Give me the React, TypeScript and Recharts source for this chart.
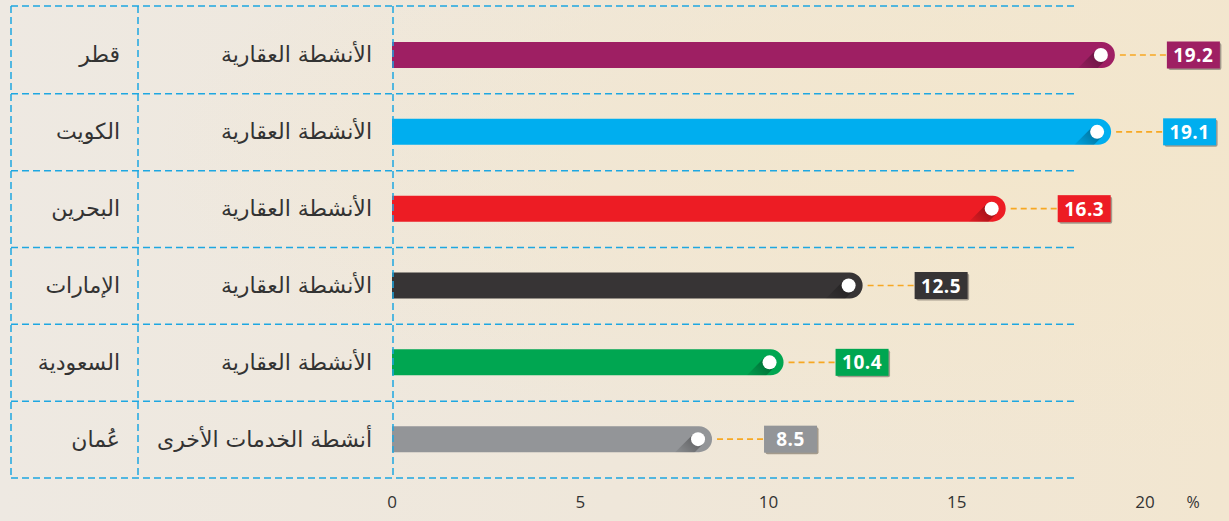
import React from 'react';
import { BarChart, Bar, XAxis, YAxis } from 'recharts';

const countries = ['قطر', 'الكويت', 'البحرين', 'الإمارات', 'السعودية', 'عُمان'];
const activities = [
  'الأنشطة العقارية',
  'الأنشطة العقارية',
  'الأنشطة العقارية',
  'الأنشطة العقارية',
  'الأنشطة العقارية',
  'أنشطة الخدمات الأخرى',
];
const values = [19.2, 19.1, 16.3, 12.5, 10.4, 8.5];
const colors = ['#9E1F63', '#00AEEF', '#ED1C24', '#373435', '#00A651', '#939598'];
const xTicks = [0, 5, 10, 15, 20];

const data = countries.map((c, i) => ({
  country: c,
  activity: activities[i],
  value: values[i],
  color: colors[i],
}));

const W = 1229;
const H = 521;
const TOP = 17;
const XAXIS_H = 43;
const LEFT_W = 392;
const RIGHT = 84;
const ROW_H = (H - TOP - XAXIS_H) / countries.length;
const GRID = '#1EA7E1';
const ARABIC_FONT = '"DejaVu Sans", sans-serif';
const NUM_FONT = '"Open Sans", "Noto Sans", sans-serif';

const BarShape = (props: any) => {
  const { x, y, width, height, payload, index } = props;
  const color = payload.color;
  const r = height / 2;
  const end = x + width;
  const cy = y + r;
  const cx = end - 14;
  const dotR = 7;
  const boxX = end + 52;
  const boxW = 53;
  const boxH = 27;
  const clipId = `clip-${index}`;
  const gradId = `shd-${index}`;
  const d = 0.7 * dotR;
  const L = 26;
  const barPath = `M${x},${y} H${end - r} A${r},${r} 0 0 1 ${end - r},${y + height} H${x} Z`;
  return (
    <g>
      <defs>
        <clipPath id={clipId}>
          <path d={barPath} />
        </clipPath>
        <linearGradient
          id={gradId}
          gradientUnits="userSpaceOnUse"
          x1={cx}
          y1={cy}
          x2={cx - L * 0.8}
          y2={cy + L * 0.8}
        >
          <stop offset="0%" stopColor="#000" stopOpacity={0.35} />
          <stop offset="100%" stopColor="#000" stopOpacity={0} />
        </linearGradient>
      </defs>
      <path d={barPath} fill={color} />
      <polygon
        clipPath={`url(#${clipId})`}
        points={`${cx - d},${cy - d} ${cx + d},${cy + d} ${cx + d - L},${cy + d + L} ${cx - d - L},${cy - d + L}`}
        fill={`url(#${gradId})`}
      />
      <circle cx={cx} cy={cy} r={dotR} fill="#fff" />
      <line
        x1={end + 5}
        y1={cy}
        x2={boxX}
        y2={cy}
        stroke="#F7A823"
        strokeWidth={1.6}
        strokeDasharray="6 4"
      />
      <rect x={boxX + 1.5} y={cy - boxH / 2 + 1.5} width={boxW} height={boxH} rx={2} fill="#A39A8C" />
      <rect x={boxX} y={cy - boxH / 2} width={boxW} height={boxH} fill={color} />
      <text
        x={boxX + boxW / 2}
        y={cy + 7}
        textAnchor="middle"
        fill="#fff"
        fontFamily={NUM_FONT}
        fontWeight={700}
        fontSize={19}
        letterSpacing={0.5}
      >
        {payload.value}
      </text>
    </g>
  );
};

const YTick = (props: any) => {
  const { y, payload, index } = props;
  const row = data[index] || data.find((d) => d.country === payload.value);
  const lineRight = 1076;
  const dash = '7 4';
  const sw = 1.5;
  const bottom = y + ROW_H / 2;
  const els: React.ReactNode[] = [];
  if (index === 0) {
    const topY = y - ROW_H / 2 - 11;
    const bottomY = y - ROW_H / 2 + ROW_H * countries.length;
    els.push(
      <line key="top" x1={11} y1={topY} x2={lineRight} y2={topY} stroke={GRID} strokeWidth={sw} strokeDasharray={dash} />,
      <line key="v1" x1={11} y1={topY} x2={11} y2={bottomY} stroke={GRID} strokeWidth={sw} strokeDasharray={dash} />,
      <line key="v2" x1={138} y1={topY} x2={138} y2={bottomY} stroke={GRID} strokeWidth={sw} strokeDasharray={dash} />,
      <line key="v3" x1={393} y1={topY} x2={393} y2={bottomY} stroke={GRID} strokeWidth={sw} strokeDasharray={dash} />
    );
  }
  return (
    <g>
      {els}
      <line x1={11} y1={bottom} x2={lineRight} y2={bottom} stroke={GRID} strokeWidth={sw} strokeDasharray={dash} />
      <text x={120} y={y + 7} textAnchor="end" fill="#333" fontFamily={ARABIC_FONT} fontSize={22}>
        {row ? row.country : payload.value}
      </text>
      <text x={372} y={y + 7} textAnchor="end" fill="#333" fontFamily={ARABIC_FONT} fontSize={22}>
        {row ? row.activity : ''}
      </text>
    </g>
  );
};

const XTick = (props: any) => {
  const { x, y, payload } = props;
  return (
    <g>
      <text x={x} y={y + 22} textAnchor="middle" fill="#333" fontFamily={NUM_FONT} fontSize={17}>
        {payload.value}
      </text>
      {payload.value === xTicks[xTicks.length - 1] ? (
        <text x={x + 48} y={y + 22} textAnchor="middle" fill="#333" fontFamily={NUM_FONT} fontSize={16}>
          %
        </text>
      ) : null}
    </g>
  );
};

export default function App() {
  return (
    <div
      style={{
        position: 'fixed',
        left: 0,
        top: 0,
        width: W,
        height: H,
        background:
          'radial-gradient(ellipse at 85% 30%, #F3E6CC 0%, rgba(243,230,204,0) 60%), linear-gradient(90deg, #EEE9E2 0%, #EFE7DA 50%, #F2E6D0 100%)',
      }}
    >
      <BarChart
        width={W}
        height={H}
        data={data}
        layout="vertical"
        margin={{ top: TOP, right: RIGHT, bottom: 0, left: 0 }}
        barCategoryGap={0}
      >
        <XAxis
          type="number"
          domain={[0, 20]}
          ticks={xTicks}
          axisLine={false}
          tickLine={false}
          height={XAXIS_H}
          tick={<XTick />}
          interval={0}
        />
        <YAxis
          type="category"
          dataKey="country"
          width={LEFT_W}
          axisLine={false}
          tickLine={false}
          tick={<YTick />}
          interval={0}
        />
        <Bar dataKey="value" barSize={26} shape={<BarShape />} isAnimationActive={false} />
      </BarChart>
    </div>
  );
}
